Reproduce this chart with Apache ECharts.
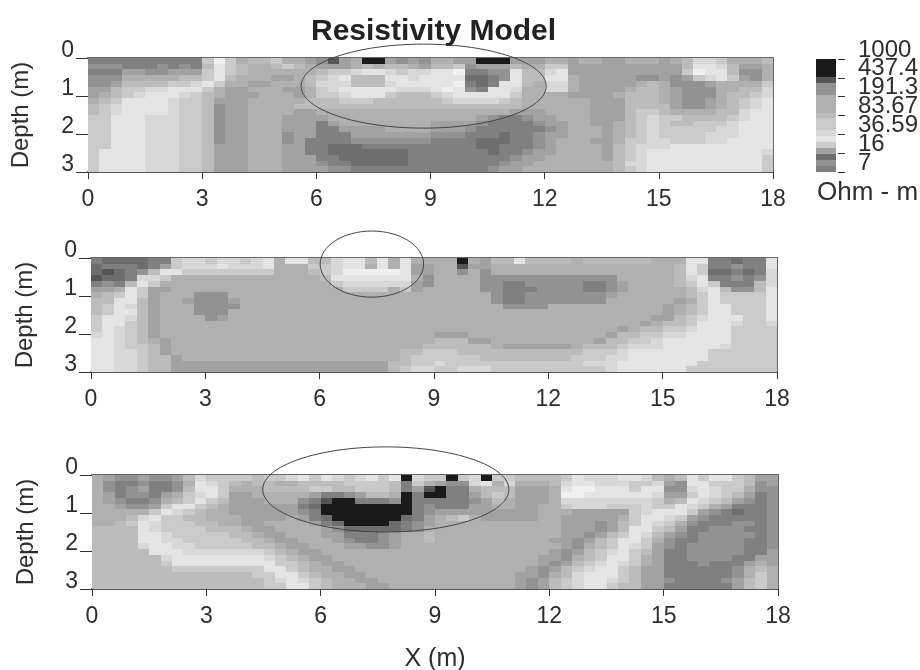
<!DOCTYPE html>
<html><head><meta charset="utf-8">
<script src="https://cdn.jsdelivr.net/npm/echarts@6/dist/echarts.min.js"></script>
<style>html,body{margin:0;padding:0;background:#fff}#c{width:920px;height:670px;filter:blur(0.5px)}</style>
</head><body><div id="c"></div>
<script>
// Resistivity classes: index into classOhm / classGrey, written as one hex digit per cell
const classOhm  = [700, 437.4, 300, 250, 191.3, 150, 120, 83.67, 60, 45, 36.59, 30];
const classGrey = ['#1a1a1a','#555555','#6e6e6e','#808080','#929292','#a2a2a2','#b0b0b0','#bcbcbc','#cacaca','#d8d8d8','#e4e4e4','#f0f0f0'];
const xTicks = [0,3,6,9,12,15,18];
const barLabels = ['1000','437.4','191.3','83.67','36.59','16','7'];
const barClasses = '0001446667 88 9a 85243';

// rows top to bottom: 30 left columns | 30 right columns, each column 0.3 m, each row 0.15 m
const model1 = [
"3333333333 8b 8 67 78 66 5 4 1 56 00 5 4 5 4|6655 000 555 665665566656 79986667",
"444 3334343 7 a 8 76 67 87 6 555 67 67 765|778 4 555 7 66 88 5555555555 7 aa9 7 556",
"333 5544555 8 a 8 7 666 666 788 9aa9899|aab 3344 a 77 9a 5555555555 8 baa 7 446",
"444 66666 77 8 a 7 666556 7 8 9 a 777 aa 9 a|aaa 2234 a 77 aa 6 555554 4545 89a 8 546",
"445 7777 88 9 a 8 66 55666 7 99 9 777 9 aaa|aa b 323 aa 76 99 65555 5676 444 56 666 8",
"55 7 88 99 aaa 8 6 5566655 6 8 9 aaaaa 999|aba 43 aa 9 66 99 65555 6776 5444 6 677 9",
"56789 aaa 9 8 7 6 5556665 6 88 9a aa 8 777|89 aaaaa 8 66 6655 5567776 5444 6 778 9",
"678 aaaa 9 88 7 5 556666 6 7778 8877777|78 9999 8 7 666666 555 7776 5 44 5 6 789a",
"789 aaaa 9 88 7 4 55666 6 777777777777|77777777 666666 555 7777 5 44 5 6 789a",
"789a aaa 9 88 7 4 55666 6 55 6666666666|6666666 555 6666 555 7887 6666 77 9aa",
"88 aaa 999 88 7 4 55666 5 555 66 6666666|66665 4334 55 666555 789887 7778 9aa",
"88 aaa 999 88 7 4 55666 555 3 5 66666666|5555 433334 55 66556 789877 8889 aaa",
"88 aaa 999 88 7 4 55666 555 33 5 5556666|5554 333333 45 66656 789888 8899 aaa",
"88 aaa 999 88 7 4 55666 4 55 333 555 5555|444 333 2 33 4 55 66656 789888 8999 aaa",
"88aaa99988 7 4 55666 4 5 3333 4444444|3333 222 33 4 5 66655 6 88 9988 899a aaa",
"88aaa99988 7 5 55666 55 33 222 333333|3333 22 333 4 5 66665 7 89 99a aaaaaaaa",
"8aaaa99988 7 5 55666 55 33 2222222 33|33333 2 33 4 55 66665 7 89 aaaaaaaaaa 9",
"8aaaa99988 7 5 55666 555 33 222222 33|3333333 4 55 666665 7 89 aaaaaaaaaa 8",
"8aaaa99988 7 5 55666 555 433 22222 33|333333 4 55 6666666 7 99 aaaaaaaaaa 8",
"8aaaa99988 7 5 55666 5555 44 3333333|33333 4 55 66666666 7 8 9 aaaaaaaaaa 8"
];
const model2 = [
"3222233 8 9989989a 6 aa 7 7 9aa 7 a 6 a 66|66 0 6 5 77 a 777767 777776 66 aa 33233 a",
"2333235 8 999a999a 666 88 9 aa 6 a 6 a 55|66 1 5 5 6666666666666666 7 a 8 33433 a",
"21234 7 a a 88888888 666 7 8 9 bbbbb a 55|66 4 6 4 6666666666666666 7 a 8 22323 9",
"1223 99 8 6666666666666 7 aaaaaaa 6 4|6666 444444444444 66666 7 9 a 33434 9",
"343 7 a 8 66666666666666 6 8 999999 5 4|6666 44 33 44444 33 4 5 6666 7 8 a 8 333 7 9",
"556 a 8 556666666666666 66 8888 6 8 5 6|6666 44 333 4444 33 4 56666 6 7 9 a 7 44 7 a",
"678a8 5 666 444 666666666666666666|66666 4 33 4444444 5 66666 6 7 8 a 8888 a",
"77aa7 5 66 5 444 5 66666666666666666|66666 4 33 4 444444 666666 5 6 8 a 8888 a",
"78a97 5 666 444 4 66666666666666666|666666 4444 6666666666 5 6 7 8 aa 888 a",
"78aa7 5 666 444 666666666666666666|66666666666666666666 5 6 7 8 aa 888 a",
"8aa97 5 6666 4 5 666666666666666666|6666666666666666666 55 7 8 9 aaa 88 a",
"8aa87 5 666666666666666666666666|666666666666666666 5 6 77 8 aaa 9 88 9",
"8a987 5 666666666666666666666666|6666666666666666 5 6 77 88 9 aaa 8888",
"9a987 5 666666666666666666666666|555 666666666666 5 77 88 99 aaaa 8888",
"aa987 6 5 66666666666666666666666|777 556 66666666 5 77 88 9 aaaaaa 8888",
"aa988 7 5 666666666666666666666 67|77777 655 5555 6 777 8 999 aaaaa 9 8888",
"aa998 7 5 66666666666666666666 77 8|88 7777777777 7 888 9 aaaaaaa 888888",
"aa998 77 5 6666666666666666666 7 88|8888 77777777 888 99 aaaaaaa 888888",
"aa998 77 5 555555555555555555 77 88|9 88888888888 8 999 aaaaaaa 8888888",
"aa998 77 5 555555555555555555 7 899|88 999 8888888888 9 aaaaaa 88888888"
];
const model3 = [
"6544544 5 7 988 887 88 9a8a989a8a 0 9 8|8 0 8 9 0 88 777 78a 99 9aa 9 7 6 7 a 8 aa 8 7 55",
"643343346 a98 767 7 6677 7788887 3 8 6|544 9a 69 666 79a a999 88 9 54 aa 888 7 45",
"643453347 aa8 666 77 778877888 7 3 5 1|033 6777 555 6 abbaaa 8aa 44 9a988 644",
"653443568 9a8 556 6666 5 334 5 776 0 3 0|033 5787 555 6 bbaaaaaa9 55 8a987 534",
"654334678 a87 555666 43 1 00 3334 0 33|333 4576 555 6 999999998 67 a9875 434",
"66544 58aa 876 555555 32 00000000 34|333 5566 55 66 89 99888 988 a9865 3334",
"666668a98 766 555555 43 00000000 34|555555555 666 55555 89aaa 8543 2334",
"66679a887 7666 55556 53 2 000000 235|6786 55555 665 5555 68aa98 5433 3334",
"6678a9888 7766 556666 532 0000 2345|66666666 66655 545 78a986 4333 4434",
"7777a9888 8777 6556666 54 22222 346|66666666666 55545 7aa875 3344 4334",
"7777aa988 888 776 55 66655 333 45 667|66666666666 55457 8a9754 3444 4434",
"7777aa998 8888 776 55 6665 43345 667|6666666666 55457 8aa8643 3444 4334",
"77779aa99 8888 8776 55 666 55445 666|66666666666 54678 a98543 4444 4334",
"77777 aaa 9999999 87655 6666666666|6666666666 54578 9a87533 4444 4335",
"777777 9 aaaaaaaa 987655 666666666|666666666 554678 aa86533 4444 3355",
"777777 8 aaaaaaaaa 887655 66666666|666666666 545789 a986533 3433 3565",
"7777777 88888888 aa876655 6666666|66666666 545789a a875533 3333 4676",
"77777777777777 88 aa876655 666666|6666666 554679a aa875533 3333 4686",
"777777777777777 89a9876655 66666|6666666 545789a a9875543 3334 5786",
"777777777777777 88aa8766655 6666|6666666 545789a a8775533 3333 5786"
];
// ellipses marking the targets: centre x, centre depth, half width (m), half depth (m)
const ellipse1 = [8.82, 0.74, 3.22, 1.105];
const ellipse2 = [7.37, 0.16, 1.357, 0.87];
const ellipse3 = [7.71, 0.38, 3.23, 1.12];

const FONT = '"Liberation Sans", Arial, sans-serif';
const INK = '#2e2e2e';
const panels = [
  {rows: model1, ell: ellipse1, left: 88, top: 58, width: 685, gap: 55},
  {rows: model2, ell: ellipse2, left: 91, top: 258, width: 686, gap: 54},
  {rows: model3, ell: ellipse3, left: 92, top: 475, width: 686, gap: 54}
];
const CW = 0.3, CH = 0.15;
const grids = [], xAxes = [], yAxes = [], series = [];

function fit30(s){
  s = s.replace(/ /g,'');
  while (s.length < 30) s += s[s.length-1];
  return s.slice(0,30);
}
function cellData(rows){
  const out = [];
  rows.forEach((r, j) => {
    const halves = r.split('|');
    const s = fit30(halves[0]) + fit30(halves[1]);
    for (let i = 0; i < 60; i++) out.push([i*CW, j*CH, classOhm[parseInt(s[i], 16)]]);
  });
  return out;
}
function cellRender(w, h){
  return function(params, api){
    const x = api.value(0), y = api.value(1);
    const a = api.coord([x, y]), b = api.coord([x+w, y+h]);
    const x0 = Math.round(a[0]), y0 = Math.round(a[1]), x1 = Math.round(b[0]), y1 = Math.round(b[1]);
    return {type:'rect', shape:{x:x0, y:y0, width:x1-x0, height:y1-y0},
      style:{fill: classGrey[classOhm.indexOf(api.value(2))]}};
  };
}
function ellipseRender(params, api){
  const c = api.coord([api.value(0), api.value(1)]);
  const e = api.coord([api.value(0)+api.value(2), api.value(1)+api.value(3)]);
  return {type:'ellipse', shape:{cx:c[0], cy:c[1], rx:Math.abs(e[0]-c[0]), ry:Math.abs(e[1]-c[1])},
    style:{fill:'none', stroke:'#444', lineWidth:1}};
}
panels.forEach((p, g) => {
  grids.push({left:p.left, top:p.top, width:p.width, height:114, outerBoundsMode:'none'});
  const xi = xAxes.length, yi = yAxes.length;
  const isLast = g === panels.length-1;
  xAxes.push({gridIndex:g, type:'value', min:xTicks[0], max:xTicks[6], interval:3, position:'bottom',
    splitLine:{show:false}, axisLine:{onZero:false, lineStyle:{color:'#555', width:2}},
    axisTick:{length:7, lineStyle:{color:'#333'}},
    axisLabel:{color:INK, fontFamily:FONT, fontSize:23, margin:16},
    name:isLast?'X (m)':'', nameLocation:'middle', nameGap:58, nameMoveOverlap:false,
    nameTextStyle:{color:INK, fontFamily:FONT, fontSize:25}});
  xAxes.push({gridIndex:g, type:'value', min:0, max:18, position:'top',
    splitLine:{show:false}, axisLine:{onZero:false, lineStyle:{color:'#666', width:2}},
    axisTick:{show:false}, axisLabel:{show:false}});
  yAxes.push({gridIndex:g, type:'value', min:0, max:3, interval:1, inverse:true, position:'left',
    splitLine:{show:false}, axisLine:{onZero:false, lineStyle:{color:'#666', width:1}},
    axisTick:{length:12, lineStyle:{color:'#333'}},
    axisLabel:{color:INK, fontFamily:FONT, fontSize:23, margin:14, verticalAlign:'bottom', lineHeight:14,
      showMinLabel:true, showMaxLabel:true},
    name:'Depth (m)', nameLocation:'middle', nameGap:p.gap, nameMoveOverlap:false,
    nameTextStyle:{color:INK, fontFamily:FONT, fontSize:24}});
  yAxes.push({gridIndex:g, type:'value', min:0, max:3, inverse:true, position:'right',
    splitLine:{show:false}, axisLine:{onZero:false, lineStyle:{color:'#666', width:1}},
    axisTick:{show:false}, axisLabel:{show:false}});
  series.push({type:'custom', coordinateSystem:'cartesian2d', xAxisIndex:xi, yAxisIndex:yi,
    encode:{x:0, y:1}, renderItem:cellRender(CW, CH), data:cellData(p.rows), silent:true, z:2, animation:false});
  series.push({type:'custom', coordinateSystem:'cartesian2d', xAxisIndex:xi, yAxisIndex:yi,
    encode:{x:0, y:1}, renderItem:ellipseRender, data:[p.ell], silent:true, z:5, animation:false});
});
// colour bar: one axis carries the end labels, a second one the inner labels, so that none is dropped
const barG = grids.length;
grids.push({left:816, top:59, width:20, height:113, outerBoundsMode:'none'});
const bx = xAxes.length, by = yAxes.length;
xAxes.push({gridIndex:barG, type:'value', min:0, max:1, show:false});
const barLabelStyle = {color:INK, fontFamily:FONT, fontSize:24, margin:20, verticalAlign:'bottom', lineHeight:14, padding:[0,0,2,0], hideOverlap:false};
yAxes.push({gridIndex:barG, type:'value', min:0, max:6, interval:1, inverse:true, position:'right', offset:2,
  splitLine:{show:false}, axisLine:{show:false, onZero:false},
  axisTick:{show:true, length:7, lineStyle:{color:'#333'}},
  axisLabel:Object.assign({}, barLabelStyle, {showMinLabel:true, showMaxLabel:true,
    formatter:v => (v === 0 || v === 6) ? barLabels[v] : ''})});
yAxes.push({gridIndex:barG, type:'value', min:0, max:6, interval:1, inverse:true, position:'right', offset:2,
  splitLine:{show:false}, axisLine:{show:false, onZero:false}, axisTick:{show:false},
  axisLabel:Object.assign({}, barLabelStyle, {showMinLabel:false, showMaxLabel:false,
    formatter:v => barLabels[v]})});
const barCells = barClasses.replace(/ /g,'').split('');
const barH = 6/barCells.length;
series.push({type:'custom', coordinateSystem:'cartesian2d', xAxisIndex:bx, yAxisIndex:by,
  encode:{x:0, y:1}, renderItem:cellRender(1, barH), silent:true, z:2, animation:false,
  data:barCells.map((c,i)=>[0, i*barH, classOhm[parseInt(c,16)]])});

const chart = echarts.init(document.getElementById('c'), null, {renderer:'canvas'});
chart.setOption({
  backgroundColor:'#fff', animation:false,
  title:{text:'Resistivity Model', left:306, top:12,
    textStyle:{fontFamily:FONT, fontSize:30, fontWeight:'bold', color:'#222'}},
  grid:grids, xAxis:xAxes, yAxis:yAxes, series:series,
  graphic:[{type:'text', left:817, top:180,
    style:{text:'Ohm - m', fontFamily:FONT, fontSize:26, fill:INK}}]
});
</script></body></html>
